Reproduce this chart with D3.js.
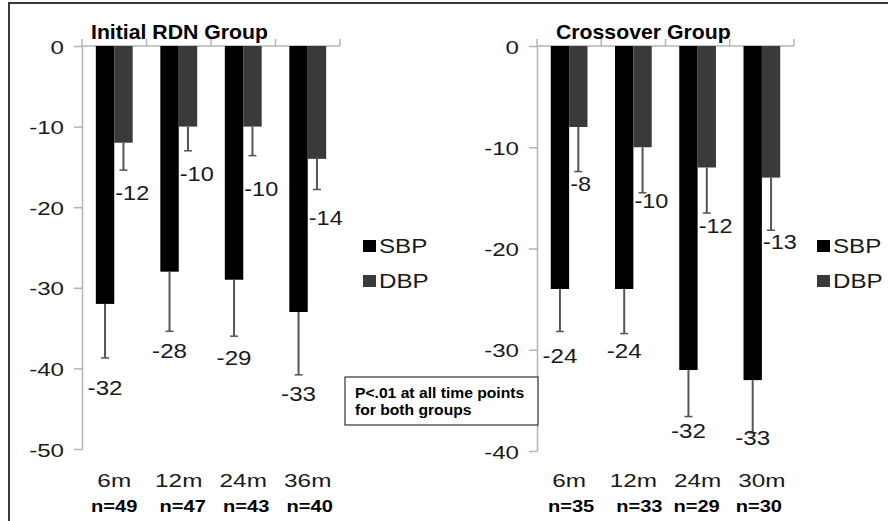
<!DOCTYPE html>
<html>
<head>
<meta charset="utf-8">
<script src="https://cdn.jsdelivr.net/npm/d3@7"></script>
<style>
  html, body { margin: 0; padding: 0; background: #fff; }
  svg { display: block; font-family: "Liberation Sans", Arial, sans-serif; }
</style>
</head>
<body>
<svg id="chart" width="888" height="521"></svg>
<script>
// ---------- data ----------
const series = ["SBP", "DBP"];

const categoriesA = ["6m", "12m", "24m", "36m"];
const nLabelsA = ["n=49", "n=47", "n=43", "n=40"];
const sbpA = [-32, -28, -29, -33];
const dbpA = [-12, -10, -10, -14];
const sbpErrA = [6.7, 7.4, 7.0, 7.8];
const dbpErrA = [3.4, 3.0, 3.6, 3.8];
const yTicksA = [0, -10, -20, -30, -40, -50];

const categoriesB = ["6m", "12m", "24m", "30m"];
const nLabelsB = ["n=35", "n=33", "n=29", "n=30"];
const sbpB = [-24, -24, -32, -33];
const dbpB = [-8, -10, -12, -13];
const sbpErrB = [4.2, 4.4, 4.6, 5.2];
const dbpErrB = [4.4, 4.5, 4.5, 5.2];
const yTicksB = [0, -10, -20, -30, -40];

const titleA = "Initial RDN Group";
const titleB = "Crossover Group";
const noteLines = ["P<.01 at all time points", "for both groups"];

// ---------- styles ----------
const colors = { SBP: "#000000", DBP: "#3a3a3a" };
const axisColor = "#b4b4b4";
const errColor = "#555555";
const textColor = "#1a1a1a";

const svg = d3.select("#chart");

function txt(g, x, y, str, o) {
  return g.append("text")
    .attr("transform", `translate(${x},${y}) scale(${o.sx || 1},1)`)
    .attr("text-anchor", o.anchor || "start")
    .style("font-size", o.size + "px")
    .style("font-weight", o.weight || "normal")
    .style("fill", o.fill || textColor)
    .text(str);
}

// ---------- layout per panel ----------
const panels = [
  {
    cats: categoriesA, n: nLabelsA, sbp: sbpA, dbp: dbpA, sbpErr: sbpErrA, dbpErr: dbpErrA,
    ticks: yTicksA, title: titleA,
    axisX: 82, xEnd: 340, yTop: 46, yBottom: 449, yMin: -50,
    titleX: 91, legendX: 363,
    sbpLabelOff: [37.5, 26.5, 28.5, 26.5],
    dbpLabelOff: [30, 30, 40, 36],
    nShift: [0, 4, 3, 2]
  },
  {
    cats: categoriesB, n: nLabelsB, sbp: sbpB, dbp: dbpB, sbpErr: sbpErrB, dbpErr: dbpErrB,
    ticks: yTicksB, title: titleB,
    axisX: 537, xEnd: 794, yTop: 46, yBottom: 451, yMin: -40,
    titleX: 556, legendX: 817,
    sbpLabelOff: [31, 24, 21, 12],
    dbpLabelOff: [19, 15, 20, 19],
    nShift: [2, 6, -1, -3]
  }
];

// frame
svg.append("path")
  .attr("d", "M9,521 L9,3 L888,3")
  .attr("fill", "none")
  .attr("stroke", "#3a3a3a")
  .attr("stroke-width", 2);

panels.forEach(p => {
  const g = svg.append("g");
  const y = d3.scaleLinear().domain([p.yMin, 0]).range([p.yBottom, p.yTop]);
  const x0 = d3.scaleBand().domain(p.cats).range([p.axisX, p.xEnd]).paddingInner(0).paddingOuter(0);
  const x1 = d3.scaleBand().domain(series).range([0, x0.bandwidth()]).paddingInner(0).paddingOuter(0.75);

  // y axis
  const yAxis = g.append("g")
    .attr("transform", `translate(${p.axisX},0)`)
    .call(d3.axisLeft(y).tickValues(p.ticks).tickSize(8).tickSizeOuter(0).tickFormat(d => String(d)));
  yAxis.select(".domain").attr("stroke", axisColor).attr("stroke-width", 1.5);
  yAxis.selectAll(".tick line").attr("stroke", axisColor).attr("stroke-width", 1.5);
  yAxis.selectAll(".tick text")
    .attr("x", null).attr("dy", null)
    .attr("transform", "translate(-18,7) scale(1.27,1)")
    .attr("text-anchor", "end")
    .style("font-size", "19px")
    .style("font-family", "'Liberation Sans', Arial, sans-serif")
    .style("fill", textColor);

  // x axis at zero (top) with upward ticks at category boundaries
  const bounds = p.cats.map(c => x0(c)).concat([p.xEnd]);
  g.append("line")
    .attr("x1", p.axisX).attr("x2", p.xEnd)
    .attr("y1", y(0)).attr("y2", y(0))
    .attr("stroke", axisColor).attr("stroke-width", 1.5);
  g.selectAll("line.xt").data(bounds).join("line")
    .attr("class", "xt")
    .attr("x1", d => d).attr("x2", d => d)
    .attr("y1", y(0)).attr("y2", y(0) - 7)
    .attr("stroke", axisColor).attr("stroke-width", 1.5);

  // bars
  const rows = p.cats.map((c, i) => ({
    cat: c, i,
    vals: [
      { key: "SBP", v: p.sbp[i], e: p.sbpErr[i], off: p.sbpLabelOff[i] },
      { key: "DBP", v: p.dbp[i], e: p.dbpErr[i], off: p.dbpLabelOff[i] }
    ]
  }));

  const grp = g.selectAll("g.cat").data(rows).join("g")
    .attr("class", "cat")
    .attr("transform", d => `translate(${x0(d.cat)},0)`);

  grp.selectAll("rect").data(d => d.vals).join("rect")
    .attr("x", d => x1(d.key))
    .attr("width", x1.bandwidth())
    .attr("y", y(0))
    .attr("height", d => y(d.v) - y(0))
    .attr("fill", d => colors[d.key]);

  // error bars (minus direction)
  grp.selectAll("line.err").data(d => d.vals).join("line")
    .attr("class", "err")
    .attr("x1", d => x1(d.key) + x1.bandwidth() / 2)
    .attr("x2", d => x1(d.key) + x1.bandwidth() / 2)
    .attr("y1", d => y(d.v))
    .attr("y2", d => y(d.v - d.e))
    .attr("stroke", errColor).attr("stroke-width", 2);
  grp.selectAll("line.cap").data(d => d.vals).join("line")
    .attr("class", "cap")
    .attr("x1", d => x1(d.key) + x1.bandwidth() / 2 - 4)
    .attr("x2", d => x1(d.key) + x1.bandwidth() / 2 + 4)
    .attr("y1", d => y(d.v - d.e))
    .attr("y2", d => y(d.v - d.e))
    .attr("stroke", errColor).attr("stroke-width", 1.5);

  // value labels
  rows.forEach(r => {
    const base = x0(r.cat);
    const s = r.vals[0], d = r.vals[1];
    txt(g, base + x1("SBP") + x1.bandwidth() / 2, y(s.v - s.e) + s.off, String(s.v),
        { size: 21, sx: 1.15, anchor: "middle" });
    txt(g, base + x1("DBP") + 1, y(d.v - d.e) + d.off, String(d.v),
        { size: 21, sx: 1.12, anchor: "start" });
  });

  // category labels
  p.cats.forEach((c, i) => {
    const cx = x0(c) + x0.bandwidth() / 2;
    txt(g, cx, 487, c, { size: 19, sx: 1.28, anchor: "middle" });
    txt(g, cx + p.nShift[i], 512, p.n[i], { size: 17, sx: 1.18, anchor: "middle", weight: "bold", fill: "#000" });
  });

  // title
  txt(g, p.titleX, 39, p.title, { size: 19.5, sx: 1.09, weight: "bold", fill: "#000" });

  // legend
  series.forEach((s, i) => {
    const ly = 253 + i * 35;
    g.append("rect")
      .attr("x", p.legendX).attr("y", ly - 13)
      .attr("width", 13).attr("height", 12)
      .attr("fill", colors[s]);
    txt(g, p.legendX + 16, ly, s, { size: 21, sx: 1.15 });
  });
});

// annotation box
const note = svg.append("g");
note.append("rect")
  .attr("x", 345).attr("y", 377)
  .attr("width", 193).attr("height", 48)
  .attr("fill", "#fff")
  .attr("stroke", "#333").attr("stroke-width", 1.2);
noteLines.forEach((t, i) => {
  txt(note, 355, 398 + i * 17, t, { size: 14.5, sx: 1.08, weight: "bold", fill: "#000" });
});
</script>
</body>
</html>
